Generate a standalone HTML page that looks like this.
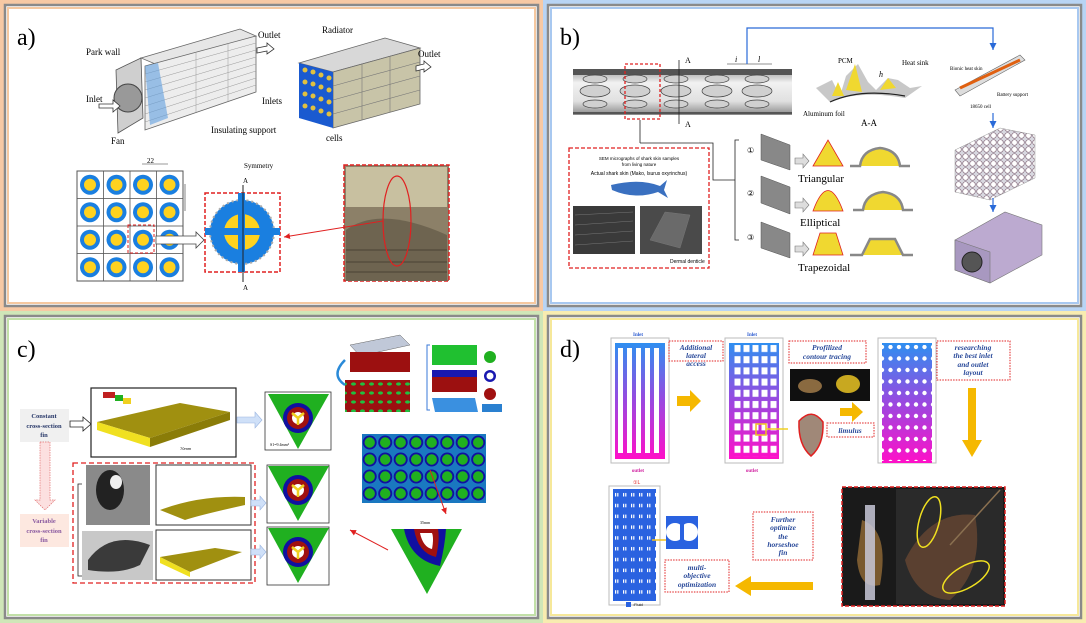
<!DOCTYPE html>
<html><head><meta charset="utf-8">
<style>
html,body{margin:0;padding:0;background:#fff;}
svg{display:block;}
text{font-family:"Liberation Serif",serif;}
.s{font-family:"Liberation Sans",sans-serif;}
</style></head><body>
<svg width="1086" height="623" viewBox="0 0 1086 623" xmlns="http://www.w3.org/2000/svg">
<defs>
<linearGradient id="bp" x1="0" y1="0" x2="0" y2="1"><stop offset="0" stop-color="#2f8ff0"/><stop offset="0.5" stop-color="#9a48e0"/><stop offset="1" stop-color="#ff10c8"/></linearGradient>
<linearGradient id="tube" x1="0" y1="0" x2="0" y2="1"><stop offset="0" stop-color="#9a9a9a"/><stop offset="0.3" stop-color="#f2f2f2"/><stop offset="0.7" stop-color="#e0e0e0"/><stop offset="1" stop-color="#8a8a8a"/></linearGradient>
<pattern id="cells" x="77" y="171" width="26.5" height="27.5" patternUnits="userSpaceOnUse">
<rect width="26.5" height="27.5" fill="#fff" stroke="#555" stroke-width="0.8"/>
<circle cx="13" cy="13.7" r="10" fill="#1a7fe0"/><circle cx="13" cy="13.7" r="6" fill="#ffd21f"/></pattern>
<pattern id="holes" x="878" y="342" width="8.5" height="11.5" patternUnits="userSpaceOnUse"><circle cx="4" cy="5" r="2.2" fill="#fff"/></pattern>
<pattern id="sq" x="733" y="343" width="9" height="11.2" patternUnits="userSpaceOnUse"><rect x="1.5" y="2" width="6" height="7" fill="#fff"/></pattern>
<pattern id="slots" x="613" y="490" width="8" height="10.8" patternUnits="userSpaceOnUse"><rect x="2" y="3" width="1.2" height="3.5" fill="#fff"/><rect x="4.2" y="3" width="1.2" height="3.5" fill="#fff"/></pattern>
<pattern id="hex" x="362" y="434" width="15.5" height="17" patternUnits="userSpaceOnUse"><rect width="15.5" height="17" fill="#1a78c0"/><circle cx="7.7" cy="8.5" r="7" fill="#1010a0"/><circle cx="7.7" cy="8.5" r="5.2" fill="#20b020"/></pattern>
<pattern id="pack" x="955" y="125" width="7" height="7" patternUnits="userSpaceOnUse"><rect width="7" height="7" fill="#d8d8e0"/><circle cx="3.5" cy="3.5" r="2.8" fill="#fff" stroke="#8a7080" stroke-width="0.7"/></pattern>
<pattern id="gcyl" x="340" y="345" width="9" height="9" patternUnits="userSpaceOnUse"><rect width="9" height="9" fill="#9c1010"/><ellipse cx="4.5" cy="3" rx="2.5" ry="1.6" fill="#20c040"/></pattern>
<marker id="ar" markerWidth="8" markerHeight="8" refX="6" refY="3" orient="auto"><path d="M0,0 L6,3 L0,6z" fill="#e02020"/></marker>
<marker id="ab" markerWidth="8" markerHeight="8" refX="6" refY="3" orient="auto"><path d="M0,0 L6,3 L0,6z" fill="#2a6ad8"/></marker>
<marker id="ak" markerWidth="8" markerHeight="8" refX="6" refY="3" orient="auto"><path d="M0,0 L6,3 L0,6z" fill="#222"/></marker>
</defs>

<!-- frames -->
<rect x="2" y="2" width="539" height="307" fill="none" stroke="#f7c9a4" stroke-width="4"/>
<rect x="5" y="5" width="533" height="301" fill="#fff" stroke="#8a8a8a" stroke-width="2.5"/>
<rect x="8" y="8" width="527" height="295" fill="none" stroke="#f5c8a0" stroke-width="2"/>

<rect x="545" y="2" width="539" height="307" fill="none" stroke="#b8d4f4" stroke-width="4"/>
<rect x="548" y="5" width="533" height="301" fill="#fff" stroke="#8a8a8a" stroke-width="2.5"/>
<rect x="551" y="8" width="527" height="295" fill="none" stroke="#a8c8f0" stroke-width="2"/>

<rect x="2" y="313" width="539" height="308" fill="none" stroke="#cfe6b8" stroke-width="4"/>
<rect x="5" y="316" width="533" height="302" fill="#fff" stroke="#8a8a8a" stroke-width="2.5"/>
<rect x="8" y="319" width="527" height="296" fill="none" stroke="#c2e0a8" stroke-width="2"/>

<rect x="545" y="313" width="539" height="308" fill="none" stroke="#f8ecb0" stroke-width="4"/>
<rect x="548" y="316" width="533" height="302" fill="#fff" stroke="#8a8a8a" stroke-width="2.5"/>
<rect x="551" y="319" width="527" height="296" fill="none" stroke="#f6e89a" stroke-width="2"/>

<!-- ===== Panel a ===== -->
<text x="17" y="45" font-size="24">a)</text>
<polygon points="116,70 141,58 143,118 118,133" fill="#cfcfcf" stroke="#555" stroke-width="0.8"/>
<polygon points="141,58 240,29 256,36 160,66" fill="#e6e6e6" stroke="#666" stroke-width="0.8"/>
<polygon points="145,66 256,36 256,92 145,130" fill="#ededed" stroke="#666" stroke-width="0.8"/>
<g stroke="#999" stroke-width="0.5">
<line x1="145" y1="74" x2="256" y2="43"/><line x1="145" y1="82" x2="256" y2="50"/><line x1="145" y1="90" x2="256" y2="57"/><line x1="145" y1="98" x2="256" y2="64"/><line x1="145" y1="106" x2="256" y2="71"/><line x1="145" y1="114" x2="256" y2="78"/><line x1="145" y1="122" x2="256" y2="85"/><line x1="196" y1="52" x2="196" y2="112"/><line x1="228" y1="43" x2="228" y2="101"/></g>
<polygon points="145,66 158,63 168,118 150,125" fill="#5f9fe0" opacity="0.6"/>
<circle cx="128" cy="98" r="14" fill="#999" stroke="#444"/>
<polygon points="99,104 113,104 113,100 120,106 113,112 113,108 99,108" fill="#fff" stroke="#333" stroke-width="0.8"/>
<polygon points="257,48 267,46 267,43 274,49 267,54 267,51 257,53" fill="#fff" stroke="#333" stroke-width="0.8"/>
<text x="258" y="38" font-size="9">Outlet</text>
<text x="86" y="55" font-size="9">Park wall</text>
<text x="86" y="102" font-size="9">Inlet</text>
<text x="111" y="144" font-size="9">Fan</text>
<polygon points="299,63 385,38 420,48 333,72" fill="#d8d8d8" stroke="#666" stroke-width="0.8"/>
<polygon points="333,72 420,48 420,104 333,128" fill="#c8c4a8" stroke="#666" stroke-width="0.8"/>
<g stroke="#777" stroke-width="0.6"><line x1="333" y1="86" x2="420" y2="62"/><line x1="333" y1="100" x2="420" y2="76"/><line x1="333" y1="114" x2="420" y2="90"/><line x1="362" y1="64" x2="362" y2="120"/><line x1="390" y1="56" x2="390" y2="112"/></g>
<polygon points="299,63 333,72 333,128 299,118" fill="#1a5ad0"/>
<g fill="#e0c040"><circle cx="305" cy="70" r="2.5"/><circle cx="313" cy="72" r="2.5"/><circle cx="321" cy="75" r="2.5"/><circle cx="305" cy="82" r="2.5"/><circle cx="313" cy="84" r="2.5"/><circle cx="321" cy="87" r="2.5"/><circle cx="305" cy="94" r="2.5"/><circle cx="313" cy="96" r="2.5"/><circle cx="321" cy="99" r="2.5"/><circle cx="305" cy="106" r="2.5"/><circle cx="313" cy="108" r="2.5"/><circle cx="321" cy="111" r="2.5"/><circle cx="329" cy="78" r="2.5"/><circle cx="329" cy="90" r="2.5"/><circle cx="329" cy="102" r="2.5"/><circle cx="329" cy="114" r="2.5"/></g>
<polygon points="416,66 424,64 424,61 431,67 424,72 424,69 416,71" fill="#fff" stroke="#333" stroke-width="0.8"/>
<text x="322" y="33" font-size="9">Radiator</text>
<text x="418" y="57" font-size="9">Outlet</text>
<text x="262" y="104" font-size="9">Inlets</text>
<text x="211" y="133" font-size="9">Insulating support</text>
<text x="326" y="141" font-size="9">cells</text>
<rect x="77" y="171" width="106" height="110" fill="url(#cells)" stroke="#555"/>
<rect x="128" y="225" width="26" height="28" fill="none" stroke="#e02020" stroke-dasharray="3,2"/>
<polygon points="156,236 196,236 196,232 204,240 196,248 196,244 156,244" fill="#fff" stroke="#444" stroke-width="0.8"/>
<text x="147" y="163" font-size="7">22</text>
<line x1="142" y1="164" x2="168" y2="164" stroke="#333" stroke-width="0.6"/>
<line x1="185" y1="184" x2="185" y2="211" stroke="#333" stroke-width="0.6"/>
<rect x="205" y="193" width="75" height="79" fill="#fff" stroke="#e02020" stroke-width="1.5" stroke-dasharray="4,2"/>
<circle cx="242" cy="232" r="32" fill="#1a7fe0" stroke="#aaa" stroke-width="2" stroke-dasharray="2,3"/>
<circle cx="242" cy="232" r="18" fill="#ffd21f"/>
<rect x="205" y="228" width="75" height="7" fill="#1a7fe0"/>
<rect x="238" y="193" width="7" height="79" fill="#1a7fe0"/>
<line x1="243" y1="185" x2="243" y2="282" stroke="#222" stroke-width="1"/>
<text x="243" y="183" font-size="7">A</text><text x="243" y="290" font-size="7">A</text>
<text x="244" y="168" font-size="7">Symmetry</text>
<rect x="344" y="165" width="105" height="116" fill="#8c8068" stroke="#e02020" stroke-width="1.5" stroke-dasharray="4,2"/>
<rect x="346" y="167" width="101" height="40" fill="#c8c0a0"/>
<path d="M346,230 Q380,205 447,235 L447,281 L346,281z" fill="#6e6450"/>
<g stroke="#4a4234" stroke-width="1"><line x1="346" y1="250" x2="447" y2="250"/><line x1="346" y1="262" x2="447" y2="262"/><line x1="346" y1="272" x2="447" y2="272"/></g>
<ellipse cx="397" cy="221" rx="14" ry="45" fill="none" stroke="#e02020" stroke-width="1.2"/>
<line x1="383" y1="221" x2="284" y2="237" stroke="#e02020" stroke-width="1" marker-end="url(#ar)"/>

<!-- ===== Panel b ===== -->
<text x="560" y="45" font-size="24">b)</text>
<rect x="573" y="69" width="219" height="46" fill="url(#tube)"/>
<rect x="573" y="69" width="219" height="6" fill="#555"/>
<rect x="573" y="112" width="219" height="2" fill="#555"/>
<g fill="#d0d0d0" stroke="#444" stroke-width="0.7">
<ellipse cx="595" cy="79" rx="12" ry="4"/><ellipse cx="595" cy="91" rx="15" ry="6"/><ellipse cx="595" cy="104" rx="12" ry="4"/>
<ellipse cx="635" cy="79" rx="12" ry="4"/><ellipse cx="635" cy="91" rx="15" ry="6"/><ellipse cx="635" cy="104" rx="12" ry="4"/>
<ellipse cx="676" cy="79" rx="12" ry="4"/><ellipse cx="676" cy="91" rx="15" ry="6"/><ellipse cx="676" cy="104" rx="12" ry="4"/>
<ellipse cx="717" cy="79" rx="12" ry="4"/><ellipse cx="717" cy="91" rx="15" ry="6"/><ellipse cx="717" cy="104" rx="12" ry="4"/>
<ellipse cx="757" cy="79" rx="12" ry="4"/><ellipse cx="757" cy="91" rx="15" ry="6"/><ellipse cx="757" cy="104" rx="12" ry="4"/></g>
<rect x="625" y="64" width="35" height="55" fill="none" stroke="#e02020" stroke-width="1.3" stroke-dasharray="3,2"/>
<line x1="679" y1="60" x2="679" y2="124" stroke="#222" stroke-width="0.8"/>
<text x="685" y="63" font-size="8">A</text><text x="685" y="127" font-size="8">A</text>
<text x="735" y="62" font-size="8" font-style="italic">i</text><text x="758" y="62" font-size="8" font-style="italic">l</text>
<line x1="727" y1="64" x2="772" y2="64" stroke="#222" stroke-width="0.6"/>
<path d="M747,64 L747,28 L993,28 L993,50" fill="none" stroke="#2a6ad8" stroke-width="1.2" marker-end="url(#ab)"/>
<path d="M640,120 L640,143 M640,143 L713,143 L713,180 L735,180" fill="none" stroke="#222" stroke-width="0.8"/>
<path d="M816,88 L832,80 L840,96 L846,76 L858,64 L868,82 L876,90 L888,78 L898,80 L910,88 L922,86 L905,98 Q860,90 830,102 Z" fill="#c8c8c8"/>
<path d="M830,102 Q860,88 905,96" fill="none" stroke="#222" stroke-width="1.2"/>
<path d="M846,90 L855,64 L862,92 Z M880,90 L888,78 L896,88Z M832,96 L838,82 L844,96Z" fill="#f0d830"/>
<text x="838" y="63" font-size="7">PCM</text><text x="902" y="65" font-size="7">Heat sink</text>
<text x="803" y="116" font-size="7">Aluminum foil</text><text x="861" y="126" font-size="9">A-A</text>
<text x="879" y="77" font-size="8" font-style="italic">h</text>
<rect x="569" y="148" width="140" height="120" fill="#fff" stroke="#e02020" stroke-width="1.3" stroke-dasharray="4,2"/>
<text x="639" y="160" font-size="4.5" text-anchor="middle" class="s">SEM micrographs of shark skin samples</text>
<text x="639" y="166" font-size="4.5" text-anchor="middle" class="s">from living nature</text>
<text x="639" y="175" font-size="5" text-anchor="middle" class="s">Actual shark skin (Mako, Isurus oxyrinchus)</text>
<path d="M611,185 Q640,178 660,186 L667,180 L664,190 L668,198 L658,192 Q635,200 612,190Z" fill="#3a70c0"/>
<rect x="573" y="206" width="62" height="48" fill="#3a3a3a"/>
<rect x="640" y="206" width="62" height="48" fill="#4a4a4a"/>
<g stroke="#777" stroke-width="0.5"><line x1="575" y1="215" x2="633" y2="212"/><line x1="575" y1="225" x2="633" y2="221"/><line x1="575" y1="235" x2="633" y2="231"/><line x1="575" y1="245" x2="633" y2="241"/><path d="M650,240 L665,212 L690,215 L680,248Z" fill="#6a6a6a"/></g>
<text x="670" y="263" font-size="5" class="s">Dermal denticle</text>
<path d="M739,140 L735,140 L735,240 L739,240" fill="none" stroke="#222" stroke-width="0.8"/>
<g font-size="8" class="s"><text x="747" y="153">①</text><text x="747" y="196">②</text><text x="747" y="240">③</text></g>
<g fill="#888" stroke="#555" stroke-width="0.5">
<polygon points="761,134 790,145 790,170 761,160"/><polygon points="761,176 790,187 790,214 761,203"/><polygon points="761,222 790,233 790,258 761,248"/></g>
<g fill="#ddd" stroke="#777" stroke-width="0.6">
<polygon points="795,158 803,158 803,154 809,161 803,168 803,164 795,164"/><polygon points="795,202 803,202 803,198 809,205 803,212 803,208 795,208"/><polygon points="795,246 803,246 803,242 809,249 803,256 803,252 795,252"/></g>
<polygon points="813,166 828,140 843,166" fill="#f0d830" stroke="#e02020" stroke-width="0.8"/>
<path d="M813,211 Q828,170 843,211Z" fill="#f0d830" stroke="#e02020" stroke-width="0.8"/>
<polygon points="813,255 820,233 836,233 843,255" fill="#f0d830" stroke="#e02020" stroke-width="0.8"/>
<g fill="#f0d830" stroke="#888" stroke-width="2.5">
<path d="M850,166 L860,166 Q862,150 880,148 Q898,150 900,166 L910,166"/>
<path d="M853,210 L863,210 Q865,194 883,192 Q901,194 903,210 L913,210"/>
<path d="M850,255 L862,255 L870,239 L895,239 L903,255 L913,255"/></g>
<text x="798" y="182" font-size="11">Triangular</text>
<text x="800" y="226" font-size="11">Elliptical</text>
<text x="798" y="271" font-size="11">Trapezoidal</text>
<polygon points="955,90 1020,55 1025,60 960,96" fill="#ddd" stroke="#666" stroke-width="0.6"/>
<line x1="960" y1="88" x2="1020" y2="60" stroke="#e06010" stroke-width="3"/>
<text x="950" y="70" font-size="5">Bionic heat skin</text><text x="997" y="96" font-size="5">Battery support</text><text x="970" y="108" font-size="5">18650 cell</text>
<line x1="993" y1="113" x2="993" y2="128" stroke="#2a6ad8" stroke-width="1.2" marker-end="url(#ab)"/>
<polygon points="955,150 1000,128 1035,135 1035,178 990,200 955,192" fill="url(#pack)" stroke="#999" stroke-width="0.5"/>
<line x1="993" y1="198" x2="993" y2="212" stroke="#2a6ad8" stroke-width="1.2" marker-end="url(#ab)"/>
<polygon points="955,240 1005,212 1042,225 1042,255 990,283 955,270" fill="#bcaad0" stroke="#777" stroke-width="0.6"/>
<polygon points="955,240 990,252 990,283 955,270" fill="#a898c0" stroke="#777" stroke-width="0.6"/>
<circle cx="972" cy="262" r="10" fill="#555" stroke="#222"/>

<!-- ===== Panel c ===== -->
<text x="17" y="357" font-size="24">c)</text>
<rect x="91" y="388" width="145" height="69" fill="#fff" stroke="#222" stroke-width="1.2"/>
<polygon points="97,422 180,403 230,412 150,438" fill="#a09010"/>
<polygon points="97,422 150,438 150,447 97,430" fill="#f0e020"/>
<polygon points="150,438 230,412 230,420 150,447" fill="#8a7c08"/>
<text x="180" y="450" font-size="4" class="s">70mm</text>
<rect x="103" y="392" width="12" height="6" fill="#c02020"/><rect x="115" y="395" width="8" height="6" fill="#20b020"/><rect x="123" y="398" width="8" height="6" fill="#f0d020"/>
<rect x="20" y="409" width="49" height="33" fill="#f0f0f0"/>
<text x="44" y="418" font-size="6.5" font-weight="bold" fill="#2a3a6a" text-anchor="middle">Constant</text>
<text x="44" y="428" font-size="6.5" font-weight="bold" fill="#2a3a6a" text-anchor="middle">cross-section</text>
<text x="44" y="437" font-size="6.5" font-weight="bold" fill="#2a3a6a" text-anchor="middle">fin</text>
<polygon points="70,421 83,421 83,417 91,424 83,431 83,427 70,427" fill="#fff" stroke="#222" stroke-width="0.8"/>
<polygon points="40,442 50,442 50,500 55,500 45,510 35,500 40,500" fill="#fce0e0" stroke="#e07070" stroke-width="0.7" stroke-dasharray="1.5,1"/>
<rect x="20" y="514" width="49" height="33" fill="#fde8e0"/>
<text x="44" y="523" font-size="6.5" font-weight="bold" fill="#8a5aa0" text-anchor="middle">Variable</text>
<text x="44" y="533" font-size="6.5" font-weight="bold" fill="#8a5aa0" text-anchor="middle">cross-section</text>
<text x="44" y="542" font-size="6.5" font-weight="bold" fill="#8a5aa0" text-anchor="middle">fin</text>
<path d="M82,484 L78,484 L78,576 L82,576" fill="none" stroke="#222" stroke-width="0.8"/>
<rect x="73" y="463" width="182" height="120" fill="none" stroke="#e02020" stroke-width="1.3" stroke-dasharray="5,3"/>
<rect x="86" y="465" width="64" height="60" fill="#8a8a8a"/>
<ellipse cx="110" cy="490" rx="14" ry="20" fill="#222"/><ellipse cx="116" cy="482" rx="6" ry="7" fill="#eee"/>
<rect x="82" y="531" width="71" height="49" fill="#c8c8c8"/>
<path d="M88,560 Q110,530 150,545 L140,565 Q120,575 88,570Z" fill="#3a3a3a"/>
<rect x="156" y="465" width="95" height="60" fill="#fff" stroke="#333"/>
<path d="M160,510 Q200,495 245,497 L245,505 Q200,515 185,520Z" fill="#a09010"/>
<rect x="156" y="530" width="95" height="50" fill="#fff" stroke="#333"/>
<polygon points="160,557 215,548 242,552 190,572" fill="#a09010"/><polygon points="160,557 190,572 190,577 160,563" fill="#f0e020"/>
<g fill="#cfe0f8" stroke="#9ab4e0" stroke-width="0.6"><polygon points="237,417 255,417 255,412 262,420 255,428 255,423 237,423"/><polygon points="251,500 260,500 260,496 266,503 260,510 260,506 251,506"/><polygon points="251,549 260,549 260,545 266,552 260,559 260,555 251,555"/></g>
<g>
<rect x="265" y="392" width="66" height="58" fill="#fff" stroke="#333" stroke-width="0.8"/>
<rect x="267" y="465" width="62" height="58" fill="#fff" stroke="#333" stroke-width="0.8"/>
<rect x="267" y="527" width="62" height="58" fill="#fff" stroke="#333" stroke-width="0.8"/>
</g>
<g id="tri">
<polygon points="268,394 329,394 298,449" fill="#20b020"/>
<circle cx="298" cy="418" r="15" fill="#1010a0"/><circle cx="298" cy="418" r="11" fill="#a01010"/><circle cx="298" cy="418" r="6" fill="#fff"/>
<path d="M292,413 L298,418 L304,413 M298,418 L298,425" stroke="#f0d020" stroke-width="2.5" fill="none"/></g>
<use href="#tri" x="0" y="72"/><use href="#tri" x="0" y="134"/>
<text x="270" y="446" font-size="4">S1=9.4mm²</text>
<polygon points="350,345 400,335 410,345 360,356" fill="#c0c8d8" stroke="#666" stroke-width="0.5"/>
<rect x="350" y="352" width="60" height="20" fill="#9c1010"/>
<rect x="345" y="380" width="65" height="32" fill="url(#gcyl)"/>
<path d="M345,360 Q330,375 345,385" fill="none" stroke="#2a8ad8" stroke-width="2.5"/>
<path d="M430,345 L427,345 L427,410 L430,410" fill="none" stroke="#3a7ad8" stroke-width="1"/>
<rect x="432" y="345" width="45" height="20" fill="#20c030"/>
<rect x="432" y="372" width="45" height="20" fill="#9c1010"/><rect x="432" y="370" width="45" height="7" fill="#1818b0"/>
<polygon points="432,398 475,398 478,412 435,412" fill="#3a90e0"/>
<circle cx="490" cy="357" r="6" fill="#20b020"/><circle cx="490" cy="376" r="6" fill="#1818b0"/><circle cx="490" cy="376" r="3.5" fill="#fff"/><circle cx="490" cy="394" r="6" fill="#a01010"/><rect x="482" y="404" width="20" height="8" fill="#2a80d0"/>
<rect x="362" y="434" width="124" height="69" fill="url(#hex)"/>
<line x1="430" y1="470" x2="446" y2="514" stroke="#e02020" stroke-width="1" marker-end="url(#ar)"/>
<polygon points="391,529 462,529 427,594" fill="#20b020"/>
<path d="M404,529 Q410,560 440,566 Q445,545 446,529Z" fill="#1010a0"/>
<path d="M414,529 Q418,553 436,557 Q440,540 438,529Z" fill="#a01010"/>
<path d="M420,533 Q423,547 432,549 Q434,538 432,533Z" fill="#fff"/>
<text x="420" y="524" font-size="4">35mm</text>
<line x1="388" y1="550" x2="350" y2="530" stroke="#e02020" stroke-width="1" marker-end="url(#ar)"/>

<!-- ===== Panel d ===== -->
<text x="560" y="357" font-size="24">d)</text>
<g class="s" font-weight="bold" font-size="5" fill="#2a5ad0"><text x="638" y="336" text-anchor="middle">Inlet</text><text x="752" y="336" text-anchor="middle">Inlet</text></g>
<g class="s" font-weight="bold" font-size="5" fill="#d020a0"><text x="638" y="472" text-anchor="middle">outlet</text><text x="752" y="472" text-anchor="middle">outlet</text></g>
<rect x="611" y="338" width="58" height="125" fill="#fff" stroke="#bbb"/>
<rect x="615" y="343" width="50" height="116" fill="url(#bp)"/>
<g fill="#fff"><rect x="618" y="348" width="5" height="105"/><rect x="627" y="348" width="5" height="105"/><rect x="636" y="348" width="5" height="105"/><rect x="645" y="348" width="5" height="105"/><rect x="654" y="348" width="5" height="105"/></g>
<rect x="725" y="338" width="58" height="125" fill="#fff" stroke="#bbb"/>
<rect x="729" y="343" width="50" height="116" fill="url(#bp)"/>
<rect x="733" y="345" width="45" height="112" fill="url(#sq)"/>
<rect x="756" y="424" width="10" height="11" fill="none" stroke="#f0c020" stroke-width="1.5"/>
<line x1="766" y1="429" x2="788" y2="429" stroke="#f0d020" stroke-width="1.5"/>
<rect x="878" y="338" width="58" height="125" fill="#fff" stroke="#bbb"/>
<rect x="882" y="343" width="50" height="120" fill="url(#bp)"/>
<rect x="882" y="345" width="50" height="116" fill="url(#holes)"/>
<g fill="#f5b800">
<polygon points="677,396 690,396 690,390 701,401 690,412 690,406 677,406"/>
<polygon points="840,408 852,408 852,402 863,412 852,422 852,416 840,416"/>
<polygon points="968,388 976,388 976,440 982,440 972,457 962,440 968,440"/>
<polygon points="813,582 813,590 751,590 751,596 735,586 751,576 751,582"/></g>
<g fill="none" stroke="#e02020" stroke-width="1" stroke-dasharray="1.5,1.2">
<rect x="669" y="341" width="54" height="20"/><rect x="789" y="341" width="77" height="22"/><rect x="937" y="341" width="73" height="39"/>
<rect x="827" y="423" width="47" height="14"/><rect x="753" y="512" width="60" height="48"/><rect x="665" y="560" width="64" height="32"/></g>
<g class="s" font-weight="bold" font-style="italic" font-size="7.5" fill="#2a4a9a" text-anchor="middle">
<text x="696" y="350">Additional</text><text x="696" y="358">lateral</text><text x="696" y="366">access</text>
<text x="827" y="350">Profilized</text><text x="827" y="359">contour tracing</text>
<text x="973" y="350">researching</text><text x="973" y="358">the best inlet</text><text x="973" y="367">and outlet</text><text x="973" y="375">layout</text>
<text x="850" y="433">limulus</text>
<text x="783" y="522">Further</text><text x="783" y="530">optimize</text><text x="783" y="539">the</text><text x="783" y="547">horseshoe</text><text x="783" y="555">fin</text>
<text x="697" y="570">multi-</text><text x="697" y="578">objective</text><text x="697" y="587">optimization</text></g>
<rect x="790" y="369" width="80" height="32" fill="#101010"/>
<ellipse cx="810" cy="386" rx="12" ry="7" fill="#8a6a40"/><ellipse cx="848" cy="384" rx="12" ry="9" fill="#c8a820"/>
<path d="M799,421 Q812,407 823,422 Q824,445 811,456 Q798,445 799,421Z" fill="#a08878" stroke="#e02020" stroke-width="1.5"/>
<rect x="609" y="486" width="51" height="119" fill="#fff" stroke="#bbb"/>
<rect x="613" y="489" width="43" height="112" fill="#2a62e0"/>
<rect x="613" y="489" width="43" height="112" fill="url(#slots)"/>
<rect x="666" y="516" width="32" height="33" fill="#2a62e0"/>
<circle cx="675" cy="532" r="9" fill="#fff"/><circle cx="689" cy="532" r="9" fill="#fff"/><rect x="680" y="520" width="4" height="28" fill="#2a62e0"/>
<line x1="652" y1="540" x2="666" y2="540" stroke="#f0c020" stroke-width="1.5"/>
<rect x="626" y="602" width="5" height="5" fill="#2a62e0"/><text x="633" y="606" font-size="4" class="s">:Fluid</text>
<text x="633" y="484" font-size="5" fill="#e02020" class="s">①L</text>
<rect x="842" y="487" width="163" height="119" fill="#1a1a1a" stroke="#e02020" stroke-width="1.5" stroke-dasharray="4,2"/>
<rect x="896" y="489" width="107" height="115" fill="#2a2a2a"/>
<path d="M862,520 Q890,530 880,585 Q860,590 857,560Z" fill="#7a5a30"/>
<rect x="865" y="505" width="10" height="95" fill="#c8c8d8" opacity="0.85"/>
<path d="M905,560 Q930,510 975,515 Q985,570 950,600 Q915,598 905,560Z" fill="#5a4030"/>
<line x1="950" y1="545" x2="1000" y2="490" stroke="#8a7050" stroke-width="1.5"/>
<ellipse cx="929" cy="522" rx="10" ry="26" fill="none" stroke="#f0e020" stroke-width="1.5" transform="rotate(15 929 522)"/>
<ellipse cx="966" cy="577" rx="26" ry="11" fill="none" stroke="#f0e020" stroke-width="1.5" transform="rotate(-30 966 577)"/>
</svg>
</body></html>
